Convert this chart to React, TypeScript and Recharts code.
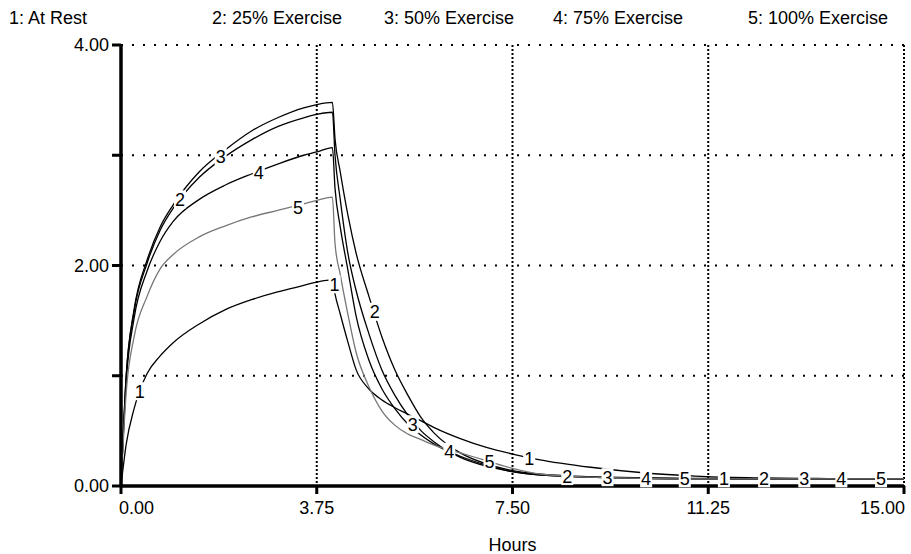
import {
  ComposedChart,
  Line,
  Scatter,
  XAxis,
  YAxis,
  CartesianGrid,
  Label,
} from "recharts";

// hours since start
const TIMES = [
  0, 0.1, 0.25, 0.5, 0.75, 1, 1.5, 2, 2.5, 3, 3.5, 3.75, 4.05, 4.1, 4.2, 4.35, 4.5,
  4.75, 5, 5.25, 5.5, 5.75, 6, 6.5, 7, 7.5, 8, 9, 10, 11, 12, 13, 14, 15,
];

const AT_REST = [
  0, 0.38, 0.7, 1.02, 1.18, 1.3, 1.47, 1.6, 1.69, 1.76, 1.82, 1.85, 1.87, 1.74, 1.56, 1.3, 1.06,
  0.88, 0.78, 0.71, 0.65, 0.59, 0.53, 0.43, 0.35, 0.29, 0.24, 0.17, 0.12, 0.09, 0.075, 0.07, 0.065, 0.065,
];
const EX_25 = [
  0, 1.0, 1.6, 2.05, 2.35, 2.55, 2.85, 3.05, 3.22, 3.34, 3.43, 3.46, 3.48, 3.15, 2.85, 2.45, 2.12,
  1.72, 1.35, 1.05, 0.82, 0.62, 0.48, 0.3, 0.2, 0.14, 0.11, 0.085, 0.075, 0.07, 0.065, 0.065, 0.065, 0.065,
];
const EX_50 = [
  0, 1.0, 1.58, 2.02, 2.32, 2.52, 2.8, 2.99, 3.14, 3.26, 3.34, 3.37, 3.39, 3.0, 2.6, 2.1, 1.78,
  1.38, 1.05, 0.82, 0.64, 0.5, 0.4, 0.26, 0.18, 0.13, 0.1, 0.08, 0.07, 0.065, 0.065, 0.065, 0.065, 0.065,
];
const EX_75 = [
  0, 0.95, 1.52, 1.95, 2.22, 2.4, 2.6, 2.73, 2.83, 2.92, 3.0, 3.03, 3.07, 2.7, 2.35, 1.95, 1.55,
  1.14, 0.88, 0.7, 0.56, 0.46, 0.38, 0.27, 0.19, 0.13, 0.1, 0.08, 0.07, 0.065, 0.065, 0.065, 0.065, 0.065,
];
const EX_100 = [
  0, 0.85, 1.35, 1.72, 1.97, 2.1, 2.26, 2.36, 2.44, 2.5, 2.56, 2.59, 2.62, 2.2, 1.92, 1.55, 1.22,
  0.9, 0.68, 0.55, 0.47, 0.42, 0.37, 0.3, 0.23, 0.16, 0.11, 0.08, 0.07, 0.065, 0.065, 0.065, 0.065, 0.065,
];

const SERIES_NAMES = ["At Rest", "25% Exercise", "50% Exercise", "75% Exercise", "100% Exercise"];
const SERIES_VALUES = [AT_REST, EX_25, EX_50, EX_75, EX_100];
const SERIES_COLORS = ["#000", "#000", "#000", "#000", "#777"];

// where the number markers sit on each curve
const LABEL_TIMES = [
  [0.36, 4.09, 7.82, 11.55],
  [1.13, 4.86, 8.55, 12.32],
  [1.91, 5.59, 9.32, 13.09],
  [2.64, 6.29, 10.06, 13.8],
  [3.39, 7.06, 10.8, 14.56],
];
const LABEL_VALUES = [
  [0.86, 1.83, 0.25, 0.07],
  [2.6, 1.58, 0.09, 0.07],
  [2.99, 0.56, 0.08, 0.07],
  [2.84, 0.31, 0.07, 0.07],
  [2.53, 0.22, 0.07, 0.07],
];

const X_TICKS = [0, 3.75, 7.5, 11.25, 15];
const Y_TICKS = [0, 1, 2, 3, 4];
const LEGEND_X = [9, 212, 384, 553, 748];

const rows = TIMES.map((t, i) => {
  const r: Record<string, number> = { t };
  SERIES_VALUES.forEach((vals, k) => {
    r[`s${k + 1}`] = vals[i];
  });
  return r;
});

const markerShape = (txt: string) => (props: any) => {
  const { cx, cy } = props;
  if (cx == null || cy == null) return <g />;
  return (
    <g>
      <rect x={cx - 6} y={cy - 9} width={12} height={18} fill="#fff" />
      <text x={cx} y={cy + 6.5} textAnchor="middle" fontSize={18} fill="#000">
        {txt}
      </text>
    </g>
  );
};

// first label hugs the axis, last one is right-aligned to the frame
const XTick = (props: any) => {
  const { x, y, payload } = props;
  const v = payload.value as number;
  let anchor: "start" | "middle" | "end" = "middle";
  let dx = 0;
  if (v === X_TICKS[0]) {
    anchor = "start";
    dx = -2;
  } else if (v === X_TICKS[X_TICKS.length - 1]) {
    anchor = "end";
    dx = 2;
  }
  return (
    <text x={x + dx} y={y} dy="0.71em" textAnchor={anchor} fontSize={18} fill="#000">
      {v.toFixed(2)}
    </text>
  );
};

export default function App() {
  return (
    <div
      style={{
        position: "absolute",
        left: 0,
        top: 0,
        width: 911,
        height: 554,
        background: "#fff",
        fontFamily: "'Liberation Sans', Arial, sans-serif",
      }}
    >
      {SERIES_NAMES.map((name, k) => (
        <span
          key={name}
          style={{
            position: "absolute",
            left: LEGEND_X[k],
            top: 8,
            fontSize: 18,
            color: "#000",
            whiteSpace: "nowrap",
          }}
        >
          {k + 1}: {name}
        </span>
      ))}

      <ComposedChart
        width={911}
        height={554}
        data={rows}
        margin={{ top: 45, right: 7, bottom: 0, left: 0 }}
      >
        <CartesianGrid
          vertical={false}
          stroke="#000"
          strokeWidth={2}
          strokeDasharray="2 9"
        />
        <CartesianGrid
          horizontal={false}
          stroke="#000"
          strokeWidth={2}
          strokeDasharray="2 2"
        />
        <XAxis
          dataKey="t"
          type="number"
          domain={[0, 15]}
          ticks={X_TICKS}
          height={68}
          tickSize={8}
          tickMargin={7}
          tick={<XTick />}
          axisLine={{ stroke: "#000", strokeWidth: 3.5 }}
          tickLine={{ stroke: "#000", strokeWidth: 3 }}
        >
          <Label value="Hours" position="insideBottom" offset={3} fill="#000" fontSize={18} />
        </XAxis>
        <YAxis
          type="number"
          domain={[0, 4]}
          ticks={Y_TICKS}
          tickFormatter={(v: number) => (v % 2 === 0 ? v.toFixed(2) : "")}
          width={121}
          tickSize={9}
          tickMargin={3}
          tick={{ fill: "#000", fontSize: 18 }}
          axisLine={{ stroke: "#000", strokeWidth: 3.5 }}
          tickLine={{ stroke: "#000", strokeWidth: 3 }}
        />
        {SERIES_NAMES.map((name, k) => (
          <Line
            key={name}
            type="monotone"
            dataKey={`s${k + 1}`}
            name={name}
            stroke={SERIES_COLORS[k]}
            strokeWidth={1.3}
            dot={false}
            activeDot={false}
            isAnimationActive={false}
          />
        ))}
        {SERIES_NAMES.map((name, k) => (
          <Scatter
            key={`m-${name}`}
            data={LABEL_TIMES[k].map((t, i) => ({ t, v: LABEL_VALUES[k][i] }))}
            dataKey="v"
            shape={markerShape(String(k + 1))}
            isAnimationActive={false}
          />
        ))}
      </ComposedChart>
    </div>
  );
}
